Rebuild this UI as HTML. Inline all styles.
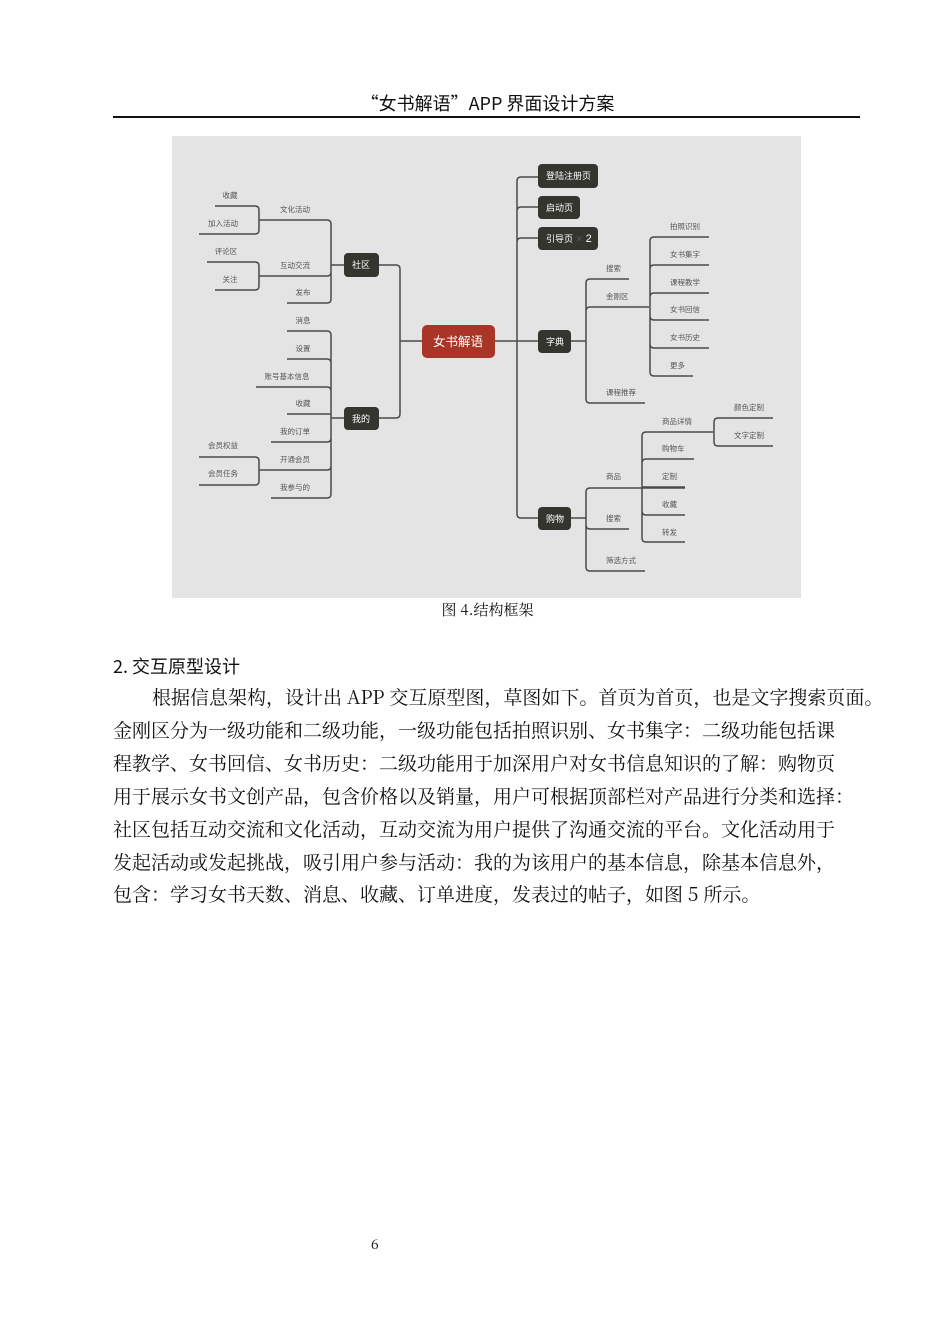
<!DOCTYPE html>
<html><head><meta charset="utf-8"><style>
body{margin:0;background:#fff;}
.page{position:relative;width:950px;height:1344px;overflow:hidden;font-family:"Noto Serif CJK SC","Liberation Serif",serif;color:#111;}
.t{position:absolute;white-space:nowrap;}
.p{position:absolute;left:113px;font-size:19px;white-space:nowrap;line-height:1;}
</style></head><body><div class="page">
<div class="t" style="left:0;width:975px;text-align:center;top:90px;font-size:18px;font-family:'Noto Sans CJK SC',sans-serif;">“女书解语”APP 界面设计方案</div>
<div style="position:absolute;left:113px;top:116px;width:747px;height:2px;background:#111;"></div>
<svg style="position:absolute;left:0;top:0" width="950" height="1344">
<rect x="172" y="136" width="629" height="462" fill="#e4e4e4"/>
<g fill="none" stroke="#4a4a4a" stroke-width="1.5">
<path d="M400,341H422M400,341V269Q400,265 396,265H379M400,341V414Q400,418 396,418H379"/>
<path d="M331,265H344M331,265V224Q331,220 327,220H259M331,265V272Q331,276 327,276H259M331,265V299Q331,303 327,303H287"/>
<path d="M259,220V210Q259,206 255,206H215M259,220V230Q259,234 255,234H199"/>
<path d="M259,276V266Q259,262 255,262H207M259,276V286Q259,290 255,290H215"/>
<path d="M331,418H344M331,418V335Q331,331 327,331H287M331,418V363Q331,359 327,359H287M331,418V391Q331,387 327,387H256M331,418V414H287M331,418V438Q331,442 327,442H271M331,418V466Q331,470 327,470H259M331,418V494Q331,498 327,498H271"/>
<path d="M259,470V461Q259,457 255,457H199M259,470V481Q259,485 255,485H199"/>
<path d="M495,341H538M517,341V181Q517,177 521,177H538M517,341V211Q517,207 521,207H538M517,341V242Q517,238 521,238H538M517,341V514Q517,518 521,518H538"/>
<path d="M571,341H586M586,341V283Q586,279 590,279H629M586,341V311Q586,307 590,307H649M586,341V399Q586,403 590,403H645"/>
<path d="M650,307V241Q650,237 654,237H709M650,307V269Q650,265 654,265H709M650,307V297Q650,293 654,293H709M650,307V316Q650,320 654,320H709M650,307V344Q650,348 654,348H709M650,307V372Q650,376 654,376H693"/>
<path d="M571,518H586M586,518V492Q586,488 590,488H685M586,518V525Q586,529 590,529H629M586,518V567Q586,571 590,571H645"/>
<path d="M642,488V436Q642,432 646,432H713M642,488V463Q642,459 646,459H694M642,488V487H685M642,488V511Q642,515 646,515H685M642,488V538Q642,542 646,542H685"/>
<path d="M714,432V422Q714,418 718,418H773M714,432V442Q714,446 718,446H773"/>
</g>
<g fill="#353530">
<rect x="344" y="253" width="35" height="24" rx="4"/>
<rect x="344" y="407" width="35" height="23" rx="4"/>
<rect x="538" y="164" width="60" height="24" rx="4"/>
<rect x="538" y="196" width="42" height="23" rx="4"/>
<rect x="538" y="227" width="60" height="23" rx="4"/>
<rect x="538" y="330" width="33" height="23" rx="4"/>
<rect x="538" y="507" width="33" height="23" rx="4"/>
</g>
<rect x="422" y="325" width="73" height="33" rx="5" fill="#a83526"/>
<g font-family="Liberation Sans,Noto Sans CJK SC,sans-serif" fill="#fff" font-size="9">
<text x="361" y="268" text-anchor="middle">社区</text>
<text x="361" y="422" text-anchor="middle">我的</text>
<text x="546" y="179">登陆注册页</text>
<text x="546" y="211">启动页</text>
<text x="546" y="242">引导页 <tspan fill="#555">✕</tspan> <tspan font-size="11">2</tspan></text>
<text x="546" y="345">字典</text>
<text x="546" y="522">购物</text>
<text x="458" y="346" text-anchor="middle" font-size="12.5">女书解语</text>
</g>
<g font-family="Liberation Sans,Noto Sans CJK SC,sans-serif" fill="#555" font-size="7.5" text-anchor="middle">
<text x="230" y="198">收藏</text><text x="223" y="226">加入活动</text><text x="295" y="212">文化活动</text>
<text x="226" y="254">评论区</text><text x="230" y="282">关注</text><text x="295" y="268">互动交流</text><text x="303" y="295">发布</text>
<text x="303" y="323">消息</text><text x="303" y="351">设置</text><text x="287" y="379">账号基本信息</text><text x="303" y="406">收藏</text>
<text x="295" y="434">我的订单</text><text x="223" y="448">会员权益</text><text x="295" y="462">开通会员</text><text x="223" y="476">会员任务</text><text x="295" y="490">我参与的</text>
</g>
<g font-family="Liberation Sans,Noto Sans CJK SC,sans-serif" fill="#555" font-size="7.5">
<text x="606" y="271">搜索</text><text x="606" y="299">金刚区</text><text x="606" y="395">课程推荐</text>
<text x="670" y="229">拍照识别</text><text x="670" y="257">女书集字</text><text x="670" y="285">课程教学</text><text x="670" y="312">女书回信</text><text x="670" y="340">女书历史</text><text x="670" y="368">更多</text>
<text x="734" y="410">颜色定制</text><text x="734" y="438">文字定制</text>
<text x="662" y="424">商品详情</text><text x="662" y="451">购物车</text><text x="662" y="479">定制</text><text x="662" y="507">收藏</text><text x="662" y="535">转发</text>
<text x="606" y="479">商品</text><text x="606" y="521">搜索</text><text x="606" y="563">筛选方式</text>
</g>
</svg>
<div class="t" style="left:0;width:975px;text-align:center;top:599px;font-size:15px;">图 4.结构框架</div>
<div class="t" style="left:113px;top:653px;font-size:18px;font-family:'Noto Sans CJK SC',sans-serif;">2. 交互原型设计</div>
<div class="p" style="left:152px;top:687px;">根据信息架构，设计出 APP 交互原型图，草图如下。首页为首页，也是文字搜索页面。</div>
<div class="p" style="top:720px;">金刚区分为一级功能和二级功能，一级功能包括拍照识别、女书集字：二级功能包括课</div>
<div class="p" style="top:753px;">程教学、女书回信、女书历史：二级功能用于加深用户对女书信息知识的了解：购物页</div>
<div class="p" style="top:786px;">用于展示女书文创产品，包含价格以及销量，用户可根据顶部栏对产品进行分类和选择：</div>
<div class="p" style="top:819px;">社区包括互动交流和文化活动，互动交流为用户提供了沟通交流的平台。文化活动用于</div>
<div class="p" style="top:852px;">发起活动或发起挑战，吸引用户参与活动：我的为该用户的基本信息，除基本信息外，</div>
<div class="p" style="top:884px;">包含：学习女书天数、消息、收藏、订单进度，发表过的帖子，如图 5 所示。</div>
<div class="t" style="left:371px;top:1234px;font-size:14px;">6</div>
</div></body></html>
